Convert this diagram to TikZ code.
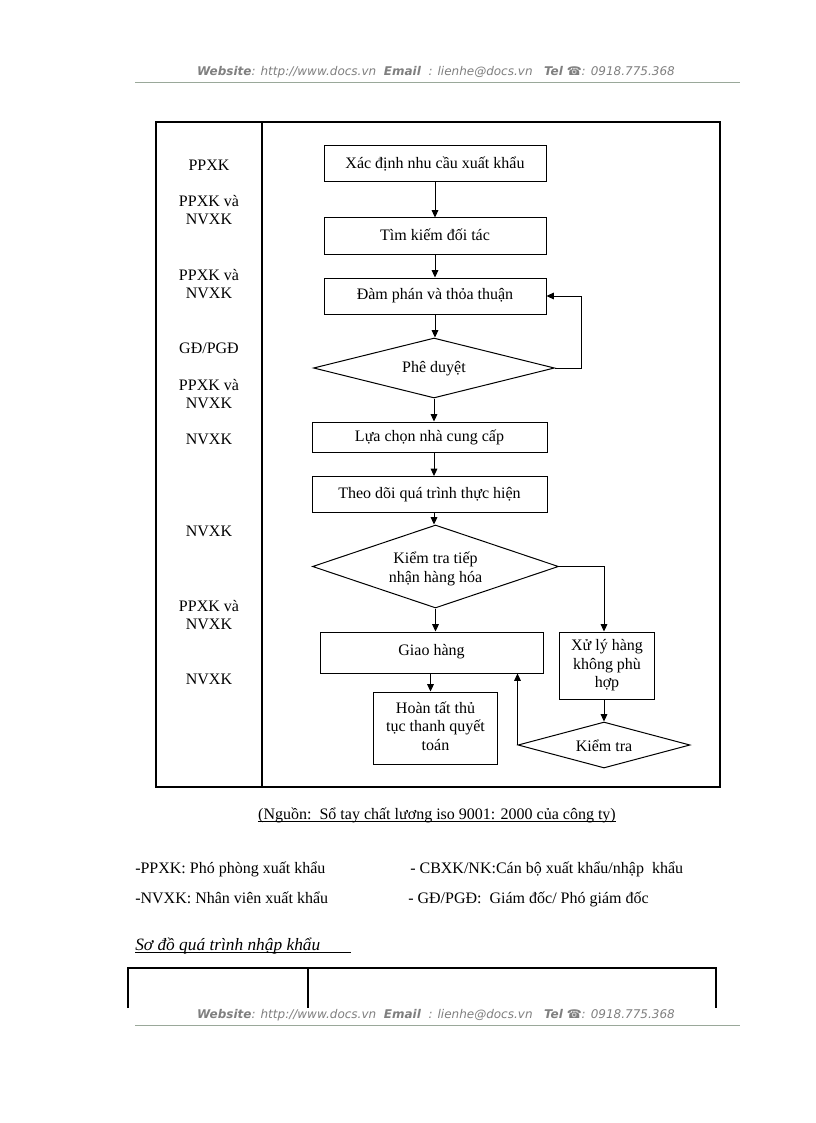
\documentclass[tikz,border=0pt]{standalone}
\usepackage{fontspec}
\setmainfont{Liberation Serif}
\newfontfamily\hdrfont{DejaVu Sans}
\usetikzlibrary{shapes.geometric,arrows.meta}
\newdimen\pxu \pxu=0.75pt
\definecolor{hdrgray}{HTML}{7F7F7F}
\definecolor{hdrline}{HTML}{9AA89A}
\newcommand{\zerobox}[1]{\makebox[0pt]{\smash{#1}}}
\tikzset{
  every node/.style={font=\fontsize{12}{13.8}\selectfont},
  stepbox/.style={draw, rectangle, inner sep=0pt, line width=0.75pt, align=center},
  decbox/.style={draw, diamond, aspect=1, inner sep=0pt, line width=0.75pt},
  arr/.style={line width=0.75pt, -{Triangle[length=5.5pt,width=5pt]}},
  lbl/.style={align=center, inner sep=0pt},
  hdr/.style={font=\hdrfont\fontsize{9}{10}\selectfont\itshape, text=hdrgray, inner sep=0pt},
  frame/.style={line width=1pt},
  uline/.style={line width=0.6pt}
}
\newcommand{\hdrtext}{{\bfseries Website}: http://www.docs.vn\ \ {\bfseries Email}\ \ : lienhe@docs.vn\ \ \ {\bfseries Tel} ☎: 0918.775.368}
\begin{document}
\begin{tikzpicture}[x=0.75pt,y=-0.75pt]
\useasboundingbox[fill=white] (0,0) rectangle (816,1123);
% header
\node[hdr] (hdr) at (436,72) {\hdrtext};
\coordinate (hl1) at (135,82); \coordinate (hl2) at (740,82);
\draw[hdrline, line width=0.6pt] (hl1) -- (hl2);
% frame
\coordinate (f1) at (156,122); \coordinate (f2) at (720,787);
\draw[frame] (f1) rectangle (f2);
\coordinate (dv1) at (262,122); \coordinate (dv2) at (262,787);
\draw[frame] (dv1) -- (dv2);
% left labels
\node[lbl] (l1) at (209,165) {PPXK};
\node[lbl] (l2) at (209,210) {PPXK và\\NVXK};
\node[lbl] (l3) at (209,284) {PPXK và\\NVXK};
\node[lbl] (l4) at (209,348) {GĐ/PGĐ};
\node[lbl] (l5) at (209,394) {PPXK và\\NVXK};
\node[lbl] (l6) at (209,439) {NVXK};
\node[lbl] (l7) at (209,531) {NVXK};
\node[lbl] (l8) at (209,615) {PPXK và\\NVXK};
\node[lbl] (l9) at (209,679) {NVXK};
% flow
\node[stepbox, minimum width=222\pxu, minimum height=36\pxu] (b1) at (435,164) {\raisebox{2\pxu}{Xác định nhu cầu xuất khẩu}};
\node[stepbox, minimum width=222\pxu, minimum height=36\pxu] (b2) at (435,236) {\raisebox{2\pxu}{Tìm kiếm đối tác}};
\node[stepbox, minimum width=222\pxu, minimum height=36\pxu] (b3) at (435,296) {\raisebox{2\pxu}{Đàm phán và thỏa thuận}};
\node[decbox, minimum width=241\pxu, minimum height=60\pxu] (d1) at (434,368) {\zerobox{\raisebox{-4.5\pxu}{Phê duyệt}}};
\node[stepbox, minimum width=235\pxu, minimum height=30\pxu] (b4) at (429.5,437) {Lựa chọn nhà cung cấp};
\node[stepbox, minimum width=235\pxu, minimum height=36\pxu] (b5) at (429.5,494.5) {\raisebox{1\pxu}{Theo dõi quá trình thực hiện}};
\node[decbox, minimum width=246\pxu, minimum height=83\pxu] (d2) at (435.5,566.5) {\zerobox{\raisebox{-7\pxu}{\begin{tabular}{@{}c@{}}Kiểm tra tiếp\\nhận hàng hóa\end{tabular}}}};
\node[stepbox, minimum width=223\pxu, minimum height=41\pxu] (b6) at (431.5,652.5) {\raisebox{5\pxu}{Giao hàng}};
\node[stepbox, minimum width=95\pxu, minimum height=67\pxu] (b7) at (607,665.5) {Xử lý hàng\\không phù\\hợp};
\node[stepbox, minimum width=124\pxu, minimum height=72\pxu] (b8) at (435.5,728) {\raisebox{2\pxu}{\begin{tabular}{@{}c@{}}Hoàn tất thủ\\tục thanh quyết\\toán\end{tabular}}};
\node[decbox, minimum width=172\pxu, minimum height=46\pxu] (d3) at (604,745) {\zerobox{\raisebox{-6\pxu}{Kiểm tra}}};
% connectors
\draw[arr] (b1.south) -- (b2.north);
\draw[arr] (b2.south) -- (b3.north);
\draw[arr] (b3.south) -- (b3.south |- d1.north);
\draw[arr] (d1.east) -- ++(26,0) |- (b3.east);
\draw[arr] (d1.south) -- (d1.south |- b4.north);
\draw[arr] (d1.south |- b4.south) -- (d1.south |- b5.north);
\draw[arr] (d1.south |- b5.south) -- (d1.south |- d2.north);
\draw[arr] (d2.south) -- (d2.south |- b6.north);
\draw[arr] (d2.east) -| (d3.north |- b7.north);
\draw[arr] (d3.north |- b7.south) -- (d3.north);
\draw[arr] (b6.south -| b8.north) ++(-5,0) coordinate (gs) -- (gs |- b8.north);
\draw[arr] (d3.west) -- (d3.west |- b6.south);
% caption
\node[inner sep=0pt, anchor=base] (cap) at (437,819) {(Nguồn:\ \ Sổ tay chất lương iso 9001: 2000 của công ty)};
\draw[uline] ([yshift=-2.5\pxu]cap.base west) -- ([yshift=-2.5\pxu]cap.base east);
% legend
\node[anchor=base west, inner sep=0pt] (lg1) at (135,873) {-PPXK: Phó phòng xuất khẩu};
\node[anchor=base west, inner sep=0pt] (lg2) at (410,873) {- CBXK/NK:Cán bộ xuất khẩu/nhập\ \ khẩu};
\node[anchor=base west, inner sep=0pt] (lg3) at (135,903) {-NVXK: Nhân viên xuất khẩu};
\node[anchor=base west, inner sep=0pt] (lg4) at (408,903) {- GĐ/PGĐ:\ \ Giám đốc/ Phó giám đốc};
\node[anchor=base west, inner sep=0pt, font=\fontsize{13}{15}\selectfont\itshape] (ttl) at (135,950) {Sơ đồ quá trình nhập khẩu};
\coordinate (ttlend) at (351,950);
\draw[uline] ([yshift=-2.5\pxu]ttl.base west) -- ([yshift=-2.5\pxu]ttlend);
% next table (cut by footer)
\coordinate (t1) at (128,1008); \coordinate (t2) at (128,968);
\coordinate (t3) at (716,968); \coordinate (t4) at (716,1008);
\coordinate (t5) at (308,968); \coordinate (t6) at (308,1008);
\draw[frame] (t1) -- (t2) -- (t3) -- (t4);
\draw[frame] (t5) -- (t6);
% footer
\node[hdr] (ftr) at (436,1015) {\hdrtext};
\coordinate (fl1) at (135,1025); \coordinate (fl2) at (740,1025);
\draw[hdrline, line width=0.6pt] (fl1) -- (fl2);
\end{tikzpicture}
\end{document}
